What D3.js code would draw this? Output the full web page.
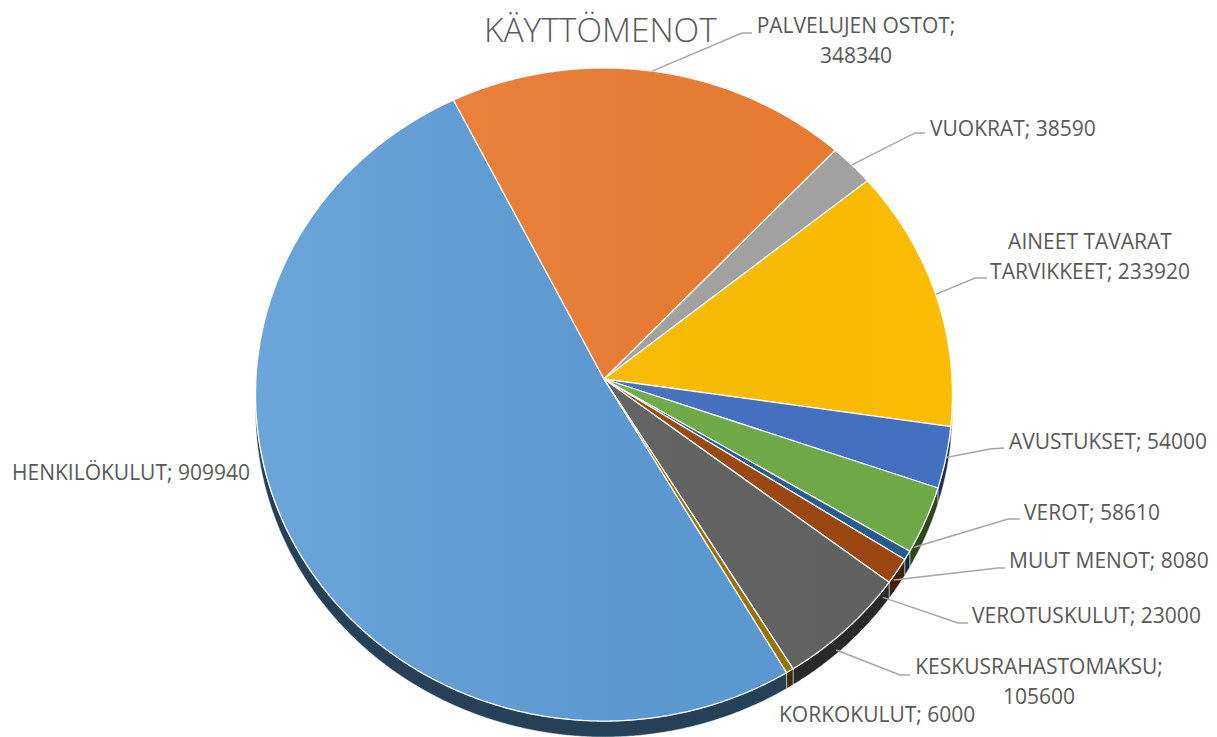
<!DOCTYPE html>
<html>
<head>
<meta charset="utf-8">
<script src="https://cdn.jsdelivr.net/npm/d3@7"></script>
<style>
  body { margin: 0; background: #fff; }
  text { font-family: "Open Sans", "Noto Sans", sans-serif; fill: #595959; }
</style>
</head>
<body>
<div id="container"></div>
<script>
/* DATA */
const categories = ["HENKILÖKULUT", "PALVELUJEN OSTOT", "VUOKRAT", "AINEET TAVARAT TARVIKKEET",
                    "AVUSTUKSET", "VEROT", "MUUT MENOT", "VEROTUSKULUT", "KESKUSRAHASTOMAKSU", "KORKOKULUT"];
const values = [909940, 348340, 38590, 233920, 54000, 58610, 8080, 23000, 105600, 6000];
const title = "KÄYTTÖMENOT";

/* LAYOUT AND STYLE */
const width = 1217, height = 737;
const colors = ["#5b9bd5", "#ed7d31", "#a5a5a5", "#ffc000", "#4472c4",
                "#70ad47", "#255e91", "#9e480e", "#636363", "#997300"];
// perspective view of the pie disc
const view = {cx: 604, cy: 379, a: 348.1, b: 325.8, k: 0.0475, depth: 16};
const firstAngle = 149.8; // degrees, clockwise from 12 o'clock

// label placement (Excel style), leader: anchor angle (null = slice middle), depth offset, elbow, end
const labelLayout = [
  {x: 12,   y: 480, anchor: "start"},
  {x: 856,  y: 33,  anchor: "middle", brk: 2, leader: {a: null, d: 0,  elbow: [742, 33],  end: [752, 33]}},
  {x: 930,  y: 136, anchor: "start",  leader: {a: null, d: 0,  elbow: [915, 133], end: [925, 133]}},
  {x: 1090, y: 249, anchor: "middle", brk: 2, leader: {a: null, d: 0,  elbow: [975, 278], end: [987, 278]}},
  {x: 1009, y: 449, anchor: "start",  leader: {a: null, d: 0,  elbow: [990, 449], end: [1004, 448]}},
  {x: 1024, y: 520, anchor: "start",  leader: {a: 119.5, d: 4, elbow: [1008, 519], end: [1020, 519]}},
  {x: 1009, y: 568, anchor: "start",  leader: {a: 126, d: 4,   elbow: [998, 568], end: [1005, 568]}},
  {x: 972,  y: 623, anchor: "start",  leader: {a: 129, d: 7,   elbow: [958, 623], end: [968, 623]}},
  {x: 1039, y: 674, anchor: "middle", brk: 1, leader: {a: 140, d: 12, elbow: [900, 675], end: [910, 675]}},
  {x: 779,  y: 722, anchor: "start"}
];
const lineHeight = 30;

const rad = Math.PI / 180;

// project an angle on the disc rim (radians, clockwise from top) to the screen
function proj(t, dz = 0) {
  const s = Math.sin(t), c = Math.cos(t);
  const D = 1 + view.k * c;
  return [view.cx + view.a * s / D, view.cy - view.b * c / D + dz];
}

function rimPoints(t0, t1, dz) {
  const n = Math.max(2, Math.ceil(Math.abs(t1 - t0) / (0.4 * rad)));
  return d3.range(n + 1).map(i => proj(t0 + (t1 - t0) * i / n, dz));
}

const pie = d3.pie().sort(null)
  .startAngle(firstAngle * rad)
  .endAngle(firstAngle * rad + 2 * Math.PI);
const arcs = pie(values);

const svg = d3.select("#container").append("svg")
  .attr("width", width).attr("height", height);

const defs = svg.append("defs");
const grad = defs.append("linearGradient").attr("id", "light")
  .attr("x1", 0).attr("x2", 1).attr("y1", 0).attr("y2", 0);
grad.append("stop").attr("offset", 0).attr("stop-color", "#fff").attr("stop-opacity", 0.1);
grad.append("stop").attr("offset", 1).attr("stop-color", "#000").attr("stop-opacity", 0.02);

const line = d3.line();

// visible side: where the rim faces the viewer (cos t <= -k)
const sideFrom = Math.acos(-view.k), sideTo = 2 * Math.PI - Math.acos(-view.k);

const sideParts = [];
arcs.forEach((d, i) => {
  [0, 2 * Math.PI].forEach(off => {
    const t0 = Math.max(d.startAngle, sideFrom + off);
    const t1 = Math.min(d.endAngle, sideTo + off);
    if (t1 > t0) sideParts.push({i, t0, t1});
  });
});

svg.append("g").selectAll("path.side")
  .data(sideParts)
  .join("path")
  .attr("class", "side")
  .attr("d", p => line(rimPoints(p.t0, p.t1, 0).concat(rimPoints(p.t1, p.t0, view.depth))) + "Z")
  .attr("fill", p => d3.color(colors[p.i]).darker(2.5))
  .attr("stroke", "#ffffff")
  .attr("stroke-opacity", 0.6)
  .attr("stroke-width", 0.8);

const center = [view.cx, view.cy];

svg.append("g").selectAll("path.slice")
  .data(arcs)
  .join("path")
  .attr("class", "slice")
  .attr("d", d => line([center].concat(rimPoints(d.startAngle, d.endAngle, 0))) + "Z")
  .attr("fill", (d, i) => colors[i])
  .attr("stroke", "#ffffff")
  .attr("stroke-width", 1.3)
  .attr("stroke-linejoin", "round");

// soft lighting across the top face
svg.append("path")
  .attr("d", line(rimPoints(0, 2 * Math.PI, 0)) + "Z")
  .attr("fill", "url(#light)")
  .attr("pointer-events", "none");

// leader lines
const leaders = arcs.map((d, i) => ({d, i, L: labelLayout[i].leader})).filter(o => o.L);
svg.append("g").selectAll("path.leader")
  .data(leaders)
  .join("path")
  .attr("class", "leader")
  .attr("d", o => {
    const t = o.L.a === null ? (o.d.startAngle + o.d.endAngle) / 2 : o.L.a * rad;
    return line([proj(t, o.L.d), o.L.elbow, o.L.end]);
  })
  .attr("fill", "none")
  .attr("stroke", "#a6a6a6")
  .attr("stroke-width", 1.4);

// data labels
svg.append("g").selectAll("text.label")
  .data(arcs)
  .join("text")
  .attr("class", "label")
  .attr("x", (d, i) => labelLayout[i].x)
  .attr("y", (d, i) => labelLayout[i].y)
  .attr("text-anchor", (d, i) => labelLayout[i].anchor)
  .style("font-size", "21px")
  .each(function(d, i) {
    const words = `${categories[i]}; ${values[i]}`.split(" ");
    const brk = labelLayout[i].brk;
    const lines = brk ? [words.slice(0, brk).join(" "), words.slice(brk).join(" ")] : [words.join(" ")];
    d3.select(this).selectAll("tspan")
      .data(lines)
      .join("tspan")
      .attr("x", labelLayout[i].x)
      .attr("dy", (l, j) => j === 0 ? 0 : lineHeight)
      .text(l => l);
  });

// title
svg.append("text")
  .attr("x", 484)
  .attr("y", 42)
  .style("font-size", "33.5px")
  .style("font-weight", 300)
  .text(title);
</script>
</body>
</html>
